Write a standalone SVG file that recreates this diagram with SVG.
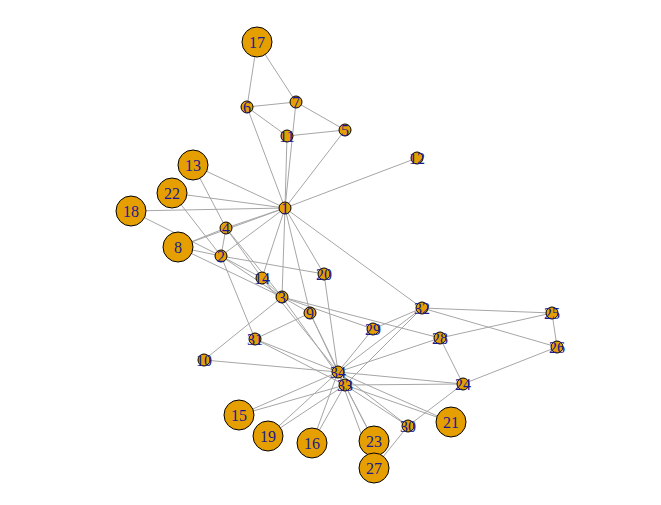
<svg xmlns="http://www.w3.org/2000/svg" width="661" height="505" viewBox="0 0 661 505">
<style>
.e{stroke:#A6A6A6;stroke-width:1;fill:none}
.n circle{fill:#E69F00;stroke:#000;stroke-width:1}
.n text{font-family:"Liberation Serif","Times New Roman",serif;font-size:16px;fill:#1A1A8C;text-anchor:middle;dominant-baseline:central}
</style>
<rect width="661" height="505" fill="#fff"/>
<g id="edges" class="e">
<line x1="285" y1="208" x2="221" y2="256"/>
<line x1="285" y1="208" x2="282" y2="297"/>
<line x1="285" y1="208" x2="226" y2="228"/>
<line x1="285" y1="208" x2="345" y2="130"/>
<line x1="285" y1="208" x2="247" y2="107"/>
<line x1="285" y1="208" x2="296" y2="102"/>
<line x1="285" y1="208" x2="178" y2="247"/>
<line x1="285" y1="208" x2="310" y2="313"/>
<line x1="285" y1="208" x2="287" y2="136"/>
<line x1="285" y1="208" x2="417" y2="158"/>
<line x1="285" y1="208" x2="193" y2="165"/>
<line x1="285" y1="208" x2="262" y2="278"/>
<line x1="285" y1="208" x2="131" y2="211"/>
<line x1="285" y1="208" x2="324" y2="274"/>
<line x1="285" y1="208" x2="172" y2="193"/>
<line x1="285" y1="208" x2="422" y2="308"/>
<line x1="221" y1="256" x2="282" y2="297"/>
<line x1="221" y1="256" x2="226" y2="228"/>
<line x1="221" y1="256" x2="178" y2="247"/>
<line x1="221" y1="256" x2="262" y2="278"/>
<line x1="221" y1="256" x2="131" y2="211"/>
<line x1="221" y1="256" x2="324" y2="274"/>
<line x1="221" y1="256" x2="172" y2="193"/>
<line x1="221" y1="256" x2="255" y2="339"/>
<line x1="282" y1="297" x2="226" y2="228"/>
<line x1="282" y1="297" x2="178" y2="247"/>
<line x1="282" y1="297" x2="310" y2="313"/>
<line x1="282" y1="297" x2="204" y2="360"/>
<line x1="282" y1="297" x2="262" y2="278"/>
<line x1="282" y1="297" x2="440" y2="338"/>
<line x1="282" y1="297" x2="373" y2="329"/>
<line x1="282" y1="297" x2="345" y2="385"/>
<line x1="226" y1="228" x2="178" y2="247"/>
<line x1="226" y1="228" x2="193" y2="165"/>
<line x1="226" y1="228" x2="262" y2="278"/>
<line x1="345" y1="130" x2="296" y2="102"/>
<line x1="345" y1="130" x2="287" y2="136"/>
<line x1="247" y1="107" x2="296" y2="102"/>
<line x1="247" y1="107" x2="287" y2="136"/>
<line x1="247" y1="107" x2="257" y2="42"/>
<line x1="296" y1="102" x2="257" y2="42"/>
<line x1="310" y1="313" x2="255" y2="339"/>
<line x1="310" y1="313" x2="345" y2="385"/>
<line x1="310" y1="313" x2="338" y2="372"/>
<line x1="204" y1="360" x2="338" y2="372"/>
<line x1="262" y1="278" x2="338" y2="372"/>
<line x1="239" y1="415" x2="345" y2="385"/>
<line x1="239" y1="415" x2="338" y2="372"/>
<line x1="312" y1="443" x2="345" y2="385"/>
<line x1="312" y1="443" x2="338" y2="372"/>
<line x1="268" y1="436" x2="345" y2="385"/>
<line x1="268" y1="436" x2="338" y2="372"/>
<line x1="324" y1="274" x2="338" y2="372"/>
<line x1="451" y1="422" x2="345" y2="385"/>
<line x1="451" y1="422" x2="338" y2="372"/>
<line x1="374" y1="441" x2="345" y2="385"/>
<line x1="374" y1="441" x2="338" y2="372"/>
<line x1="463" y1="384" x2="557" y2="347"/>
<line x1="463" y1="384" x2="440" y2="338"/>
<line x1="463" y1="384" x2="408" y2="426"/>
<line x1="463" y1="384" x2="345" y2="385"/>
<line x1="463" y1="384" x2="338" y2="372"/>
<line x1="552" y1="313" x2="557" y2="347"/>
<line x1="552" y1="313" x2="440" y2="338"/>
<line x1="552" y1="313" x2="422" y2="308"/>
<line x1="557" y1="347" x2="422" y2="308"/>
<line x1="374" y1="468" x2="408" y2="426"/>
<line x1="374" y1="468" x2="338" y2="372"/>
<line x1="440" y1="338" x2="338" y2="372"/>
<line x1="373" y1="329" x2="422" y2="308"/>
<line x1="373" y1="329" x2="338" y2="372"/>
<line x1="408" y1="426" x2="345" y2="385"/>
<line x1="408" y1="426" x2="338" y2="372"/>
<line x1="255" y1="339" x2="345" y2="385"/>
<line x1="255" y1="339" x2="338" y2="372"/>
<line x1="422" y1="308" x2="345" y2="385"/>
<line x1="422" y1="308" x2="338" y2="372"/>
<line x1="345" y1="385" x2="338" y2="372"/>
</g>
<g id="n1" class="n"><circle cx="285" cy="208" r="6"/><text x="285" y="208">1</text></g>
<g id="n2" class="n"><circle cx="221" cy="256" r="6"/><text x="221" y="256">2</text></g>
<g id="n3" class="n"><circle cx="282" cy="297" r="6"/><text x="282" y="297">3</text></g>
<g id="n4" class="n"><circle cx="226" cy="228" r="6"/><text x="226" y="228">4</text></g>
<g id="n5" class="n"><circle cx="345" cy="130" r="6"/><text x="345" y="130">5</text></g>
<g id="n6" class="n"><circle cx="247" cy="107" r="6"/><text x="247" y="107">6</text></g>
<g id="n7" class="n"><circle cx="296" cy="102" r="6"/><text x="296" y="102">7</text></g>
<g id="n8" class="n"><circle cx="178" cy="247" r="15"/><text x="178" y="247">8</text></g>
<g id="n9" class="n"><circle cx="310" cy="313" r="6"/><text x="310" y="313">9</text></g>
<g id="n10" class="n"><circle cx="204" cy="360" r="6"/><text x="204" y="360">10</text></g>
<g id="n11" class="n"><circle cx="287" cy="136" r="6"/><text x="287" y="136">11</text></g>
<g id="n12" class="n"><circle cx="417" cy="158" r="6"/><text x="417" y="158">12</text></g>
<g id="n13" class="n"><circle cx="193" cy="165" r="15"/><text x="193" y="165">13</text></g>
<g id="n14" class="n"><circle cx="262" cy="278" r="6"/><text x="262" y="278">14</text></g>
<g id="n15" class="n"><circle cx="239" cy="415" r="15"/><text x="239" y="415">15</text></g>
<g id="n16" class="n"><circle cx="312" cy="443" r="15"/><text x="312" y="443">16</text></g>
<g id="n17" class="n"><circle cx="257" cy="42" r="15"/><text x="257" y="42">17</text></g>
<g id="n18" class="n"><circle cx="131" cy="211" r="15"/><text x="131" y="211">18</text></g>
<g id="n19" class="n"><circle cx="268" cy="436" r="15"/><text x="268" y="436">19</text></g>
<g id="n20" class="n"><circle cx="324" cy="274" r="6"/><text x="324" y="274">20</text></g>
<g id="n21" class="n"><circle cx="451" cy="422" r="15"/><text x="451" y="422">21</text></g>
<g id="n22" class="n"><circle cx="172" cy="193" r="15"/><text x="172" y="193">22</text></g>
<g id="n23" class="n"><circle cx="374" cy="441" r="15"/><text x="374" y="441">23</text></g>
<g id="n24" class="n"><circle cx="463" cy="384" r="6"/><text x="463" y="384">24</text></g>
<g id="n25" class="n"><circle cx="552" cy="313" r="6"/><text x="552" y="313">25</text></g>
<g id="n26" class="n"><circle cx="557" cy="347" r="6"/><text x="557" y="347">26</text></g>
<g id="n27" class="n"><circle cx="374" cy="468" r="15"/><text x="374" y="468">27</text></g>
<g id="n28" class="n"><circle cx="440" cy="338" r="6"/><text x="440" y="338">28</text></g>
<g id="n29" class="n"><circle cx="373" cy="329" r="6"/><text x="373" y="329">29</text></g>
<g id="n30" class="n"><circle cx="408" cy="426" r="6"/><text x="408" y="426">30</text></g>
<g id="n31" class="n"><circle cx="255" cy="339" r="6"/><text x="255" y="339">31</text></g>
<g id="n32" class="n"><circle cx="422" cy="308" r="6"/><text x="422" y="308">32</text></g>
<g id="n33" class="n"><circle cx="345" cy="385" r="6"/><text x="345" y="385">33</text></g>
<g id="n34" class="n"><circle cx="338" cy="372" r="6"/><text x="338" y="372">34</text></g>
</svg>
